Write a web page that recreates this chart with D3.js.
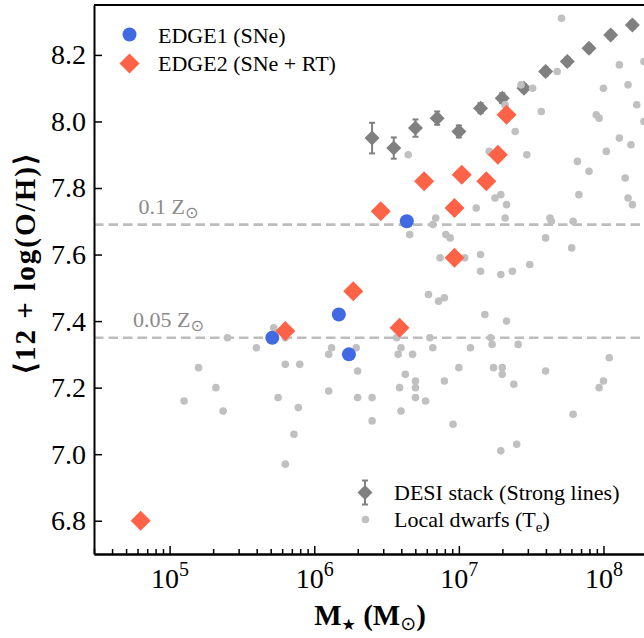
<!DOCTYPE html>
<html>
<head>
<meta charset="utf-8">
<script src="https://cdn.jsdelivr.net/npm/d3@7"></script>
<style>
  html, body { margin: 0; padding: 0; background: #fff; }
  svg { display: block; }
  text { font-family: "Liberation Serif", "Times New Roman", serif; }
</style>
</head>
<body>
<svg id="chart" width="644" height="638"></svg>
<script>
// ---- data: log10 stellar mass (Msun) and 12+log(O/H) ----
const edge1LogM = [5.71, 6.17, 6.24, 6.64];
const edge1OH   = [7.35, 7.42, 7.30, 7.70];

const edge2LogM = [4.80, 5.80, 6.27, 6.59, 6.46, 6.76, 6.97, 6.97, 7.02, 7.19, 7.27, 7.33];
const edge2OH   = [6.80, 7.37, 7.49, 7.38, 7.73, 7.82, 7.74, 7.59, 7.84, 7.82, 7.90, 8.02];

const desiLogM = [6.40, 6.55, 6.70, 6.85, 7.00, 7.15, 7.30, 7.45, 7.60, 7.75, 7.90, 8.05, 8.20];
const desiOH   = [7.95, 7.92, 7.98, 8.01, 7.97, 8.04, 8.07, 8.10, 8.15, 8.18, 8.22, 8.26, 8.29];
const desiErr  = [0.046, 0.032, 0.026, 0.020, 0.018, 0.015, 0.015, 0.012, 0.012, 0.012, 0.012, 0.012, 0.012];

const dwarfLogM = [
  5.72, 5.40, 5.60, 5.80, 5.20, 5.80, 5.90, 5.32, 5.10, 5.75, 5.37, 5.89, 5.86, 5.80,
  6.12, 6.10, 6.10, 6.30, 6.29, 6.30, 6.40, 6.40, 6.57, 6.60, 6.58, 6.63, 6.70, 6.70,
  6.59, 6.70, 6.77, 6.60, 6.68, 6.82, 6.80, 6.90, 6.96, 7.00, 7.08, 7.18, 7.33, 7.22,
  7.23, 7.41, 7.24, 7.30, 7.30, 7.38, 7.29, 7.40, 7.60, 7.79, 8.04, 8.00, 7.97,
  6.66, 6.82, 6.84, 6.91, 6.94, 6.87, 6.79, 6.90, 6.86, 6.65,
  7.71, 8.11, 8.28, 7.68, 7.43, 7.51, 8.00, 8.17, 8.23, 7.32, 7.57, 7.39, 7.95, 7.97,
  8.28, 7.21, 7.47, 8.02, 8.11, 8.19, 7.82, 7.90, 8.15, 7.83, 7.25, 7.29, 7.33, 7.12,
  8.17, 8.20, 7.32, 7.63, 7.64, 7.79, 7.60, 7.78, 7.04, 7.15, 7.15, 7.29, 7.37, 7.49
];
const dwarfOH = [
  7.38, 7.35, 7.32, 7.35, 7.26, 7.27, 7.27, 7.20, 7.16, 7.17, 7.13, 7.14, 7.06, 6.97,
  7.32, 7.30, 7.19, 7.25, 7.32, 7.17, 7.17, 7.10, 7.35, 7.32, 7.30, 7.24, 7.22, 7.20,
  7.20, 7.17, 7.16, 7.13, 7.30, 7.32, 7.35, 7.22, 7.09, 7.26, 7.32, 7.42, 7.40, 7.35,
  7.33, 7.33, 7.26, 7.26, 7.24, 7.21, 7.01, 7.03, 7.25, 7.12, 7.29, 7.22, 7.20,
  7.66, 7.69, 7.71, 7.66, 7.65, 7.59, 7.48, 7.47, 7.46, 7.90,
  8.31, 8.17, 8.18, 8.15, 8.11, 8.10, 8.10, 8.11, 8.05, 8.05, 8.03, 7.97, 8.02, 8.01,
  8.00, 7.91, 7.90, 7.91, 7.95, 7.93, 7.88, 7.85, 7.83, 7.78, 7.77, 7.78, 7.75, 7.74,
  7.77, 7.75, 7.71, 7.71, 7.70, 7.70, 7.65, 7.62, 7.59, 7.60, 7.55, 7.54, 7.55, 7.57
];

// solar-fraction reference levels
const refLevels = [
  { oh: 7.69, num: "0.1" },
  { oh: 7.35, num: "0.05" }
];

const yTicks = [6.8, 7.0, 7.2, 7.4, 7.6, 7.8, 8.0, 8.2];
const xMajorExp = [5, 6, 7, 8];

// ---- layout ----
const svg = d3.select("#chart");
const L = 94, R = 647, T = 5, B = 554;

const x = d3.scaleLog().domain([3e4, 2e8]).range([L, R]);
const y = d3.scaleLinear().domain([6.7, 8.35]).range([B, T]);

const FONT = '"Liberation Serif", "Times New Roman", serif';
const BLUE = "#4169e1", RED = "#ff6347", DGRAY = "#808080", LGRAY = "#c0c0c0";

const diamond = s => `M0,${-s}L${s},0L0,${s}L${-s},0Z`;

const plot = svg.append("g");
svg.append("defs").append("clipPath").attr("id", "clip")
  .append("rect").attr("x", L).attr("y", T).attr("width", R - L).attr("height", B - T);
const marks = plot.append("g").attr("clip-path", "url(#clip)");

// reference metallicity lines
refLevels.forEach(r => {
  marks.append("line")
    .attr("x1", L).attr("x2", R)
    .attr("y1", y(r.oh)).attr("y2", y(r.oh))
    .attr("stroke", "#bdbdbd").attr("stroke-width", 2.6)
    .attr("stroke-dasharray", "9.5,5");
});
const refLabelX = { "0.1": 138.5, "0.05": 133 };
refLevels.forEach(r => {
  const t = plot.append("text")
    .attr("x", refLabelX[r.num]).attr("y", y(r.oh) - 11)
    .attr("fill", "#8a8a8a").attr("font-size", 22);
  t.append("tspan").text(r.num + " Z");
  t.append("tspan").attr("font-size", 16).attr("dy", 4)
    .attr("font-family", "DejaVu Sans").text("\u2299");
});

// DESI stacks with error bars
const desi = desiLogM.map((m, i) => ({ m: Math.pow(10, m), oh: desiOH[i], e: desiErr[i] }));
const dg = marks.append("g");
desi.forEach(d => {
  const cx = x(d.m), y0 = y(d.oh - d.e), y1 = y(d.oh + d.e);
  dg.append("line").attr("x1", cx).attr("x2", cx).attr("y1", y0).attr("y2", y1)
    .attr("stroke", DGRAY).attr("stroke-width", 2);
  [y0, y1].forEach(yy => dg.append("line")
    .attr("x1", cx - 3).attr("x2", cx + 3).attr("y1", yy).attr("y2", yy)
    .attr("stroke", DGRAY).attr("stroke-width", 2));
});
dg.selectAll("path.desi").data(desi).join("path").attr("class", "desi")
  .attr("d", diamond(7.5))
  .attr("transform", d => `translate(${x(d.m)},${y(d.oh)})`)
  .attr("fill", DGRAY);

// local dwarfs
marks.append("g").selectAll("circle")
  .data(dwarfLogM.map((m, i) => ({ m: Math.pow(10, m), oh: dwarfOH[i] })))
  .join("circle")
  .attr("cx", d => x(d.m)).attr("cy", d => y(d.oh)).attr("r", 3.8)
  .attr("fill", LGRAY);

// EDGE1
marks.append("g").selectAll("circle")
  .data(edge1LogM.map((m, i) => ({ m: Math.pow(10, m), oh: edge1OH[i] })))
  .join("circle")
  .attr("cx", d => x(d.m)).attr("cy", d => y(d.oh)).attr("r", 7)
  .attr("fill", BLUE);

// EDGE2
marks.append("g").selectAll("path")
  .data(edge2LogM.map((m, i) => ({ m: Math.pow(10, m), oh: edge2OH[i] })))
  .join("path")
  .attr("d", diamond(10))
  .attr("transform", d => `translate(${x(d.m)},${y(d.oh)})`)
  .attr("fill", RED);

// ---- axes ----
const minorTicks = [];
for (let e = 4; e <= 8; e++) for (let k = 2; k <= 9; k++) {
  const v = k * Math.pow(10, e);
  if (v >= 3e4 && v <= 2e8) minorTicks.push(v);
}

const xMinor = plot.append("g").attr("transform", `translate(0,${B})`)
  .call(d3.axisBottom(x).tickValues(minorTicks).tickSizeInner(-5).tickSizeOuter(0).tickFormat(""));
const xMajor = plot.append("g").attr("transform", `translate(0,${B})`)
  .call(d3.axisBottom(x).tickValues(xMajorExp.map(e => Math.pow(10, e)))
    .tickSizeInner(-8).tickSizeOuter(0).tickFormat(""));
[xMinor, xMajor].forEach(g => {
  g.select(".domain").attr("stroke", "#000").attr("stroke-width", 2);
  g.selectAll(".tick line").attr("stroke", "#000").attr("stroke-width", 1.5);
});
xMajor.selectAll(".tick").each(function (d) {
  const t = d3.select(this).append("text")
    .attr("y", 34).attr("fill", "#000").attr("text-anchor", "middle")
    .attr("font-size", 28).attr("font-family", FONT);
  t.append("tspan").text("10");
  t.append("tspan").attr("font-size", 20).attr("dy", -12).text(Math.round(Math.log10(d)));
});

const yAxis = plot.append("g").attr("transform", `translate(${L},0)`)
  .call(d3.axisLeft(y).tickValues(yTicks).tickSizeInner(-8).tickSizeOuter(0)
    .tickPadding(8).tickFormat(d3.format(".1f")));
yAxis.select(".domain").attr("stroke", "#000").attr("stroke-width", 2);
yAxis.selectAll(".tick line").attr("stroke", "#000").attr("stroke-width", 1.5);
yAxis.selectAll(".tick text").attr("font-size", 28).attr("font-family", FONT).attr("fill", "#000");

// top and right spines
plot.append("line").attr("x1", L).attr("x2", R).attr("y1", T).attr("y2", T)
  .attr("stroke", "#000").attr("stroke-width", 2);
plot.append("line").attr("x1", R).attr("x2", R).attr("y1", T).attr("y2", B)
  .attr("stroke", "#000").attr("stroke-width", 2);

// axis titles
const xt = svg.append("text").attr("x", 370).attr("y", 625)
  .attr("text-anchor", "middle").attr("font-size", 29).attr("font-weight", "bold");
xt.append("tspan").text("M");
xt.append("tspan").attr("font-size", 16).attr("dy", 5).attr("font-family", "DejaVu Sans").text("\u2605");
xt.append("tspan").attr("dy", -5).text(" (M");
xt.append("tspan").attr("font-size", 19).attr("dy", 5).attr("font-family", "DejaVu Sans").attr("font-weight", "normal").text("\u2299");
xt.append("tspan").attr("dy", -5).text(")");

svg.append("text")
  .attr("transform", "translate(35,264) rotate(-90)")
  .attr("text-anchor", "middle").attr("font-size", 29).attr("font-weight", "bold")
  .attr("textLength", 220).attr("lengthAdjust", "spacing")
  .text("\u27e812 + log(O/H)\u27e9");

// ---- legends ----
const lg = svg.append("g").attr("font-size", 22);
lg.append("circle").attr("cx", 129.5).attr("cy", 34.5).attr("r", 7).attr("fill", BLUE);
lg.append("text").attr("x", 158).attr("y", 42.5).text("EDGE1 (SNe)");
lg.append("path").attr("d", diamond(10)).attr("transform", "translate(129.5,63.5)").attr("fill", RED);
lg.append("text").attr("x", 158).attr("y", 71).text("EDGE2 (SNe + RT)");

const lg2 = svg.append("g").attr("font-size", 22);
lg2.append("line").attr("x1", 365).attr("x2", 365).attr("y1", 480.5).attr("y2", 504.5)
  .attr("stroke", DGRAY).attr("stroke-width", 2);
[480.5, 504.5].forEach(yy => lg2.append("line").attr("x1", 362).attr("x2", 368)
  .attr("y1", yy).attr("y2", yy).attr("stroke", DGRAY).attr("stroke-width", 2));
lg2.append("path").attr("d", diamond(7.5)).attr("transform", "translate(365,492.5)").attr("fill", DGRAY);
lg2.append("text").attr("x", 394).attr("y", 500).text("DESI stack (Strong lines)");
lg2.append("circle").attr("cx", 365.5).attr("cy", 519.5).attr("r", 3.8).attr("fill", LGRAY);
const ld = lg2.append("text").attr("x", 394).attr("y", 527);
ld.append("tspan").text("Local dwarfs (T");
ld.append("tspan").attr("font-size", 15).attr("dy", 5).text("e");
ld.append("tspan").attr("dy", -5).text(")");
</script>
</body>
</html>
